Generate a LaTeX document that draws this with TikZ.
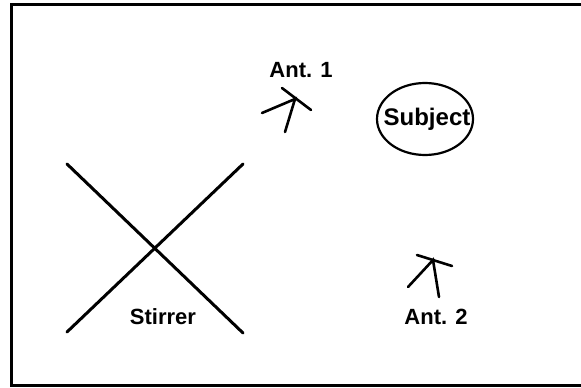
\documentclass[tikz,border=0pt]{standalone}
\usepackage{fontspec}
\setmainfont{Liberation Sans}
\begin{document}
\begin{tikzpicture}[x=1pt,y=-1pt,
  stroke/.style={line width=3pt, line cap=round},
  antstroke/.style={line width=2.6pt, line cap=round},
  lbl/.style={font=\bfseries\fontsize{22}{24}\selectfont, inner sep=0pt}]
\useasboundingbox (0,0) rectangle (581,388);
\fill[white] (0,0) rectangle (581,388);
% frame
\draw[line width=3pt] (585,4) -- (11.5,4) -- (11.5,385.5) -- (585,385.5);
% stirrer
\coordinate (s1) at (67,164);
\coordinate (s2) at (243,333);
\coordinate (s3) at (243,164);
\coordinate (s4) at (67,332);
\draw[stroke] (s1) -- (s2);
\draw[stroke] (s3) -- (s4);
\node[lbl] (stirrer) at (163,317) {Stirrer};
% antenna 1
\coordinate (a1c) at (295,99);
\coordinate (a1l) at (262,113);
\coordinate (a1s) at (285,132);
\coordinate (a1t1) at (282,88);
\coordinate (a1t2) at (311,110);
\draw[antstroke] (a1l) -- (a1c) -- (a1s);
\draw[antstroke] (a1t1) -- (a1t2);
\node[lbl] (ant1) at (301,70) {Ant. 1};
% antenna 2
\coordinate (a2c) at (433,260);
\coordinate (a2l) at (408,287);
\coordinate (a2s) at (439,297);
\coordinate (a2t1) at (417,255);
\coordinate (a2t2) at (452,266);
\draw[antstroke] (a2l) -- (a2c) -- (a2s);
\draw[antstroke] (a2t1) -- (a2t2);
\node[lbl] (ant2) at (436,317) {Ant. 2};
% subject
\draw[line width=2.2pt] (425,119) ellipse [x radius=48, y radius=36];
\node[lbl, font=\bfseries\fontsize{24}{26}\selectfont] (subject) at (427,119) {Subject};
\end{tikzpicture}
\end{document}
